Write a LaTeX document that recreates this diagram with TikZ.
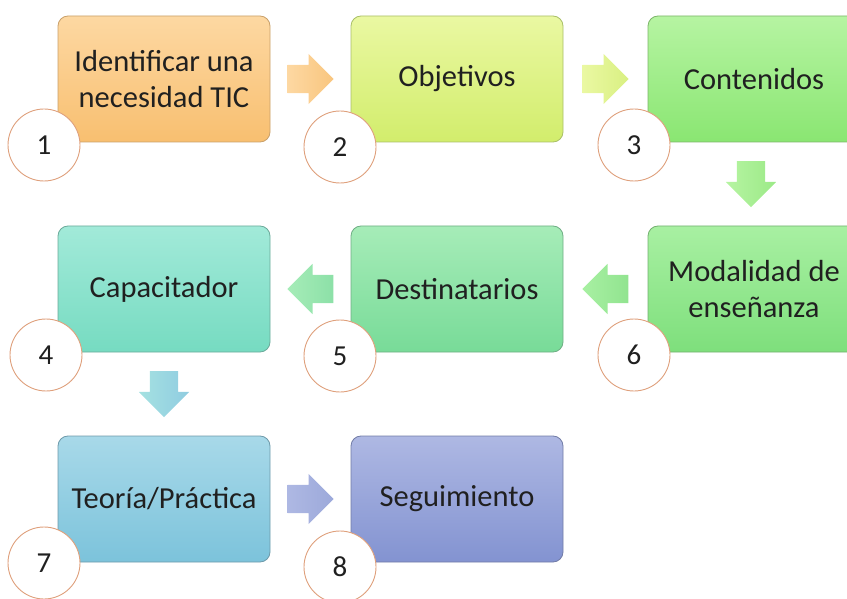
\documentclass[tikz,border=0pt]{standalone}
\usepackage{fontspec}
\setmainfont{Carlito}
\usetikzlibrary{shapes.arrows,calc}
\definecolor{txt}{HTML}{202020}
\definecolor{circc}{HTML}{DFA07C}
\definecolor{o1}{HTML}{FDD8A2}\definecolor{o2}{HTML}{F8BF70}\definecolor{ob}{HTML}{C9A06A}
\definecolor{y1}{HTML}{EAF8A2}\definecolor{y2}{HTML}{D2ED6C}\definecolor{yb}{HTML}{A9BF68}
\definecolor{g1}{HTML}{B6F4A2}\definecolor{g2}{HTML}{8AE672}\definecolor{gb}{HTML}{7DB56A}
\definecolor{h1}{HTML}{A8F0A2}\definecolor{h2}{HTML}{7EDF7C}\definecolor{hb}{HTML}{74B070}
\definecolor{m1}{HTML}{A6ECB8}\definecolor{m2}{HTML}{78DB98}\definecolor{mb}{HTML}{6FAE84}
\definecolor{t1}{HTML}{A2EAD9}\definecolor{t2}{HTML}{76DBC1}\definecolor{tb}{HTML}{6BAA9A}
\definecolor{c1}{HTML}{A8D9E9}\definecolor{c2}{HTML}{7CC3DB}\definecolor{cb}{HTML}{6E9AAA}
\definecolor{v1}{HTML}{AEB8E3}\definecolor{v2}{HTML}{8393D1}\definecolor{vb}{HTML}{727CA6}
\tikzset{
  stepbox/.style n args={3}{rounded corners=10pt, draw=#3, line width=0.8pt,
    top color=#1, bottom color=#2, minimum width=212pt, minimum height=126pt,
    inner sep=0pt, align=center, text=txt, font=\fontsize{30.5}{36}\selectfont},
  numc/.style={circle, draw=circc, line width=0.9pt, fill=white, minimum size=72pt,
    inner sep=0pt, text=txt, font=\fontsize{29}{32}\selectfont},
  blockarrow/.style n args={2}{single arrow, draw=none, inner xsep=0pt, inner ysep=14pt,
    minimum height=46pt, minimum width=50pt, single arrow head extend=11pt,
    single arrow head indent=0pt, left color=#1, right color=#2, anchor=tail},
}
\begin{document}
\begin{tikzpicture}[x=1pt,y=-1pt]
\useasboundingbox (0,0) rectangle (847,599);
\clip (0,0) rectangle (847,599);
% boxes
\node[stepbox={o1}{o2}{ob}] (b1) at (164,79) {Identificar una\\necesidad TIC};
\node[stepbox={y1}{y2}{yb}] (b2) at (457,79) {Objetivos};
\node[stepbox={g1}{g2}{gb}] (b3) at (754,79) {Contenidos};
\node[stepbox={t1}{t2}{tb}] (b4) at (164,289) {Capacitador};
\node[stepbox={m1}{m2}{mb}] (b5) at (457,289) {Destinatarios};
\node[stepbox={h1}{h2}{hb}] (b6) at (754,289) {Modalidad de\\enseñanza};
\node[stepbox={c1}{c2}{cb}] (b7) at (164,499) {Teoría/Práctica};
\node[stepbox={v1}{v2}{vb}] (b8) at (457,499) {Seguimiento};
% arrows
\node[blockarrow={o1}{o2!90!white}] (a12) at ($(b1.east)!0.5!(b2.west)+(-23,0)$) {};
\node[blockarrow={y1}{y2!85!white}] (a23) at ($(b2.east)!0.5!(b3.west)+(-23,0)$) {};
\node[blockarrow={g1}{g2!85!white}, rotate=-90] (a36) at ($(b3.south)!0.5!(b6.north)+(-3,-23)$) {};
\node[blockarrow={h1}{h2!85!white}, rotate=180] (a65) at ($(b6.west)!0.5!(b5.east)+(23,0)$) {};
\node[blockarrow={m1}{m2!85!white}, rotate=180] (a54) at ($(b5.west)!0.5!(b4.east)+(23,0)$) {};
\node[blockarrow={t1!50!c1}{c2!85!white}, rotate=-90] (a47) at ($(b4.south)!0.5!(b7.north)+(0,-23)$) {};
\node[blockarrow={v1}{v2!80!white}] (a78) at ($(b7.east)!0.5!(b8.west)+(-23,0)$) {};
% numbers
\node[numc] (n1) at (44,145) {1};
\node[numc] (n2) at (340,147) {2};
\node[numc] (n3) at (634,145) {3};
\node[numc] (n4) at (46,355) {4};
\node[numc] (n5) at (340,356) {5};
\node[numc] (n6) at (634,355) {6};
\node[numc] (n7) at (44,563) {7};
\node[numc] (n8) at (340,567) {8};
\end{tikzpicture}
\end{document}
